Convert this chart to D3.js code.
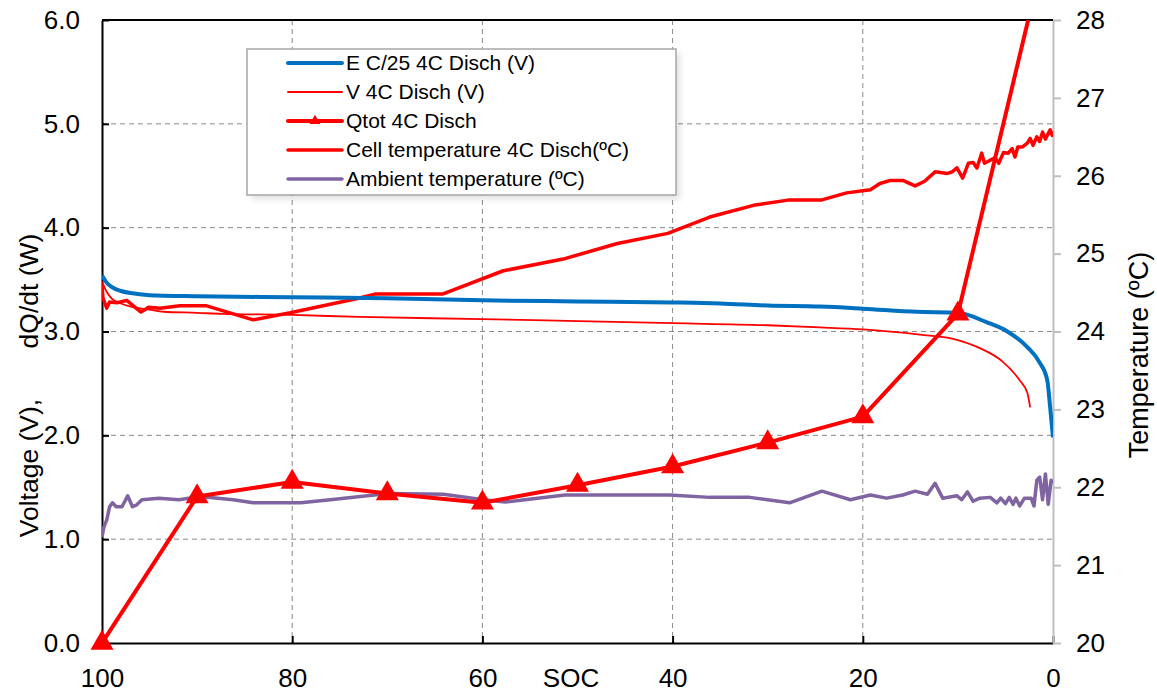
<!DOCTYPE html>
<html>
<head>
<meta charset="utf-8">
<script src="https://cdn.jsdelivr.net/npm/d3@7/dist/d3.min.js"></script>
<style>
  html, body { margin: 0; padding: 0; background: #fff; }
  svg { display: block; font-family: "Liberation Sans", Arial, sans-serif; }
</style>
</head>
<body>
<svg id="chart" width="1157" height="693"></svg>
<script>
// SOC (%) on the x axis, running from 100 down to 0
const socTicks = [100, 80, 60, 40, 20, 0];
const voltTicks = [0, 1, 2, 3, 4, 5, 6];
const tempTicks = [20, 21, 22, 23, 24, 25, 26, 27, 28];

// Equilibrium potential E at C/25 (V) — [SOC, value]
const eC25 = [[100,3.54],[99.5,3.47],[99,3.43],[98,3.39],[97,3.37],[95,3.35],[90,3.34],[80,3.33],
  [70,3.32],[60,3.30],[50,3.29],[40,3.28],[35,3.27],[30,3.25],[24.5,3.24],[20,3.22],[14.3,3.19],
  [10,3.18],[7,3.09],[4.8,3.0],[2.7,2.85],[1.4,2.70],[0.6,2.53],[0.3,2.27],[0,1.98]];

// Cell voltage at 4C discharge (V)
const v4C = [[100,3.48],[99.5,3.38],[99,3.32],[98,3.27],[97,3.24],[95,3.21],[93.5,3.19],[90,3.18],
  [87.4,3.17],[80,3.16],[72.9,3.14],[60,3.12],[50,3.10],[40,3.08],[30,3.06],[24.5,3.04],[20,3.02],
  [14,2.97],[10.5,2.93],[7.7,2.84],[5.3,2.71],[3.5,2.53],[2.7,2.41],[2.4,2.27]];

// Total heat generation rate at 4C discharge (W)
const qtot4C = [[100,0.0],[90,1.41],[80,1.55],[70,1.44],[60,1.35],[50,1.52],[40,1.70],[30,1.93],
  [20,2.18],[10,3.17],[0,7.0]];

// Cell temperature at 4C discharge (ºC)
const cellTemp = [[100,24.60],[99.9,24.43],[99.5,24.30],[99.2,24.38],[98.4,24.37],[97.4,24.40],
  [95.9,24.25],[95.1,24.31],[93.9,24.30],[91.8,24.33],[89.0,24.33],[84.1,24.15],[80.2,24.24],
  [72.9,24.43],[71.3,24.48],[64.2,24.48],[57.8,24.78],[51.5,24.93],[45.8,25.13],[40.5,25.26],
  [36.1,25.47],[31.5,25.62],[27.7,25.69],[24.3,25.69],[21.7,25.78],[19.2,25.82],[18.2,25.90],
  [17.1,25.94],[15.8,25.94],[14.5,25.87],[13.5,25.93],[12.4,26.05],[11.1,26.03],[10.6,26.05],
  [10.1,26.10],[9.5,25.97],[8.9,26.16],[8.4,26.17],[8.0,26.10],[7.5,26.29],[7.2,26.16],[6.6,26.20],
  [6.1,26.23],[5.7,26.16],[5.2,26.30],[4.7,26.29],[4.3,26.35],[4.0,26.24],[3.7,26.37],[3.2,26.37],
  [2.7,26.42],[2.4,26.48],[2.1,26.39],[1.7,26.50],[1.4,26.44],[1.1,26.56],[0.8,26.47],[0.3,26.59],
  [0,26.50]];

// Ambient temperature (ºC)
const ambientTemp = [[100,21.36],[99.8,21.49],[99.5,21.58],[99.2,21.75],[98.9,21.80],[98.5,21.75],
  [97.9,21.75],[97.3,21.89],[96.8,21.75],[96.4,21.77],[95.8,21.84],[94.0,21.86],[91.9,21.84],
  [89.7,21.88],[86.2,21.84],[84.1,21.80],[79.1,21.80],[76.0,21.84],[69.9,21.92],[64.1,21.91],
  [59.9,21.84],[57.6,21.81],[51.3,21.90],[40.3,21.90],[36.1,21.87],[31.9,21.87],[27.7,21.80],
  [24.3,21.95],[21.3,21.84],[19.2,21.90],[17.5,21.86],[15.8,21.90],[14.5,21.95],[13.2,21.91],
  [12.4,22.05],[11.6,21.86],[10.1,21.89],[9.6,21.84],[9.0,21.94],[8.4,21.82],[7.7,21.86],
  [6.6,21.87],[5.9,21.80],[5.5,21.86],[5.0,21.79],[4.6,21.87],[4.2,21.78],[3.9,21.86],[3.5,21.76],
  [3.0,21.86],[2.3,21.86],[2.0,21.76],[1.7,22.09],[1.4,22.13],[1.1,21.84],[0.8,22.17],[0.5,21.78],
  [0.2,22.09],[0,22.05]];

const legendLabels = ["E C/25 4C Disch (V)", "V 4C Disch (V)", "Qtot 4C Disch",
  "Cell temperature 4C Disch(ºC)", "Ambient temperature (ºC)"];

const colors = { blue: "#0070c0", red: "#ff0000", purple: "#8064a2" };

const svg = d3.select("#chart");
const m = { left: 102, top: 20, right: 104, bottom: 50 };
const W = 1157, H = 693;
const x0 = m.left, x1 = W - m.right, y0 = H - m.bottom, y1 = m.top;

const x = d3.scaleLinear().domain([100, 0]).range([x0, x1]);
const yL = d3.scaleLinear().domain([0, 6]).range([y0, y1]);
const yR = d3.scaleLinear().domain([20, 28]).range([y0, y1]);

const defs = svg.append("defs");
defs.append("clipPath").attr("id", "plot")
  .append("rect").attr("x", x0).attr("y", y1).attr("width", x1 - x0).attr("height", y0 - y1);
defs.append("filter").attr("id", "shadow").attr("x", "-10%").attr("y", "-10%")
  .attr("width", "120%").attr("height", "130%")
  .append("feGaussianBlur").attr("stdDeviation", 3);

// gridlines
const grid = svg.append("g").attr("stroke", "#8a8a8a").attr("stroke-dasharray", "5,4").attr("stroke-width", 1);
grid.selectAll("line.h").data(voltTicks.filter(v => v > 0 && v < 6)).join("line")
  .attr("x1", x0).attr("x2", x1).attr("y1", d => yL(d)).attr("y2", d => yL(d));
grid.selectAll("line.v").data(socTicks.filter(v => v > 0 && v < 100)).join("line")
  .attr("y1", y1).attr("y2", y0).attr("x1", d => x(d)).attr("x2", d => x(d));

// axes
const fs = 26;
const leftAxis = svg.append("g").attr("transform", `translate(${x0},0)`)
  .call(d3.axisLeft(yL).tickValues(voltTicks).tickFormat(d3.format(".1f")).tickSizeInner(-7).tickSizeOuter(0).tickPadding(22));
leftAxis.select(".domain").attr("stroke", "#000").attr("stroke-width", 2);
leftAxis.selectAll(".tick line").attr("stroke", "#000").attr("stroke-width", 2);
leftAxis.selectAll("text").attr("font-size", fs).attr("fill", "#000").attr("font-family", "Liberation Sans, Arial");

const bottomAxis = svg.append("g").attr("transform", `translate(0,${y0})`)
  .call(d3.axisBottom(x).tickValues(socTicks).tickSizeInner(-7).tickSizeOuter(0).tickPadding(26));
bottomAxis.select(".domain").attr("stroke", "#000").attr("stroke-width", 2);
bottomAxis.selectAll(".tick line").attr("stroke", "#000").attr("stroke-width", 2);
bottomAxis.selectAll("text").attr("font-size", fs).attr("fill", "#000").attr("font-family", "Liberation Sans, Arial");

const rightAxis = svg.append("g").attr("transform", `translate(${x1},0)`)
  .call(d3.axisRight(yR).tickValues(tempTicks).tickSizeInner(8).tickSizeOuter(0).tickPadding(15));
rightAxis.select(".domain").attr("stroke", "#bfbfbf").attr("stroke-width", 2);
rightAxis.selectAll(".tick line").attr("stroke", "#bfbfbf").attr("stroke-width", 2);
rightAxis.selectAll("text").attr("font-size", fs).attr("fill", "#000").attr("font-family", "Liberation Sans, Arial");

// top border
svg.append("line").attr("x1", x0).attr("x2", x1).attr("y1", y1).attr("y2", y1)
  .attr("stroke", "#000").attr("stroke-width", 2);

// axis titles
svg.append("text").attr("x", 571).attr("y", 687).attr("text-anchor", "middle")
  .attr("font-size", fs).text("SOC");
svg.append("text").attr("transform", "translate(38,468) rotate(-90)").attr("text-anchor", "middle")
  .attr("font-size", 26.5).text("Voltage (V),");
svg.append("text").attr("transform", "translate(38,291) rotate(-90)").attr("text-anchor", "middle")
  .attr("font-size", 26.5).text("dQ/dt (W)");
svg.append("text").attr("transform", "translate(1148,355) rotate(-90)").attr("text-anchor", "middle")
  .attr("font-size", 27).text("Temperature (ºC)");

// series
const lineL = d3.line().x(d => x(d[0])).y(d => yL(d[1]));
const lineLs = d3.line().x(d => x(d[0])).y(d => yL(d[1])).curve(d3.curveMonotoneX);
const lineR = d3.line().x(d => x(d[0])).y(d => yR(d[1]));
const plot = svg.append("g").attr("clip-path", "url(#plot)");
const fg = svg.append("g");

plot.append("path").datum(ambientTemp).attr("d", lineR).attr("fill", "none")
  .attr("stroke", colors.purple).attr("stroke-width", 3.5).attr("stroke-linejoin", "round");
plot.append("path").datum(cellTemp).attr("d", lineR).attr("fill", "none")
  .attr("stroke", colors.red).attr("stroke-width", 3.5).attr("stroke-linejoin", "round");
plot.append("path").datum(eC25).attr("d", lineLs).attr("fill", "none")
  .attr("stroke", colors.blue).attr("stroke-width", 4).attr("stroke-linejoin", "round");
plot.append("path").datum(v4C).attr("d", lineLs).attr("fill", "none")
  .attr("stroke", colors.red).attr("stroke-width", 1.8);
plot.append("path").datum(qtot4C).attr("d", lineL).attr("fill", "none")
  .attr("stroke", colors.red).attr("stroke-width", 4).attr("stroke-linejoin", "round");

const tri = d3.symbol().type(d3.symbolTriangle).size(230);
fg.selectAll("path.mk").data(qtot4C.filter(d => d[1] <= 6)).join("path")
  .attr("class", "mk")
  .attr("transform", d => `translate(${x(d[0])},${yL(d[1])})`)
  .attr("d", tri).attr("fill", colors.red);

// legend
const lg = svg.append("g");
const lx = 247, ly = 49, lw = 429, lh = 146;
lg.append("rect").attr("x", lx + 4).attr("y", ly + 4).attr("width", lw).attr("height", lh)
  .attr("fill", "#000").attr("opacity", 0.12).attr("filter", "url(#shadow)");
lg.append("rect").attr("x", lx).attr("y", ly).attr("width", lw).attr("height", lh)
  .attr("fill", "#fff").attr("stroke", "#a6a6a6").attr("stroke-width", 1.5);

const legendStyles = [
  { color: colors.blue, w: 4, marker: false },
  { color: colors.red, w: 1.8, marker: false },
  { color: colors.red, w: 4, marker: true },
  { color: colors.red, w: 3.5, marker: false },
  { color: colors.purple, w: 3.5, marker: false }
];
const rowY = d3.scalePoint().domain(d3.range(legendLabels.length)).range([63, 179]);
legendLabels.forEach((lab, i) => {
  const yy = rowY(i), s = legendStyles[i];
  lg.append("line").attr("x1", 288).attr("x2", 342).attr("y1", yy).attr("y2", yy)
    .attr("stroke", s.color).attr("stroke-width", s.w).attr("stroke-linecap", "round");
  if (s.marker) {
    lg.append("path").attr("transform", `translate(315,${yy})`)
      .attr("d", d3.symbol().type(d3.symbolTriangle).size(50)).attr("fill", s.color);
  }
  lg.append("text").attr("x", 346).attr("y", yy).attr("dy", "0.35em")
    .attr("font-size", 21).attr("fill", "#000").text(lab);
});
</script>
</body>
</html>
